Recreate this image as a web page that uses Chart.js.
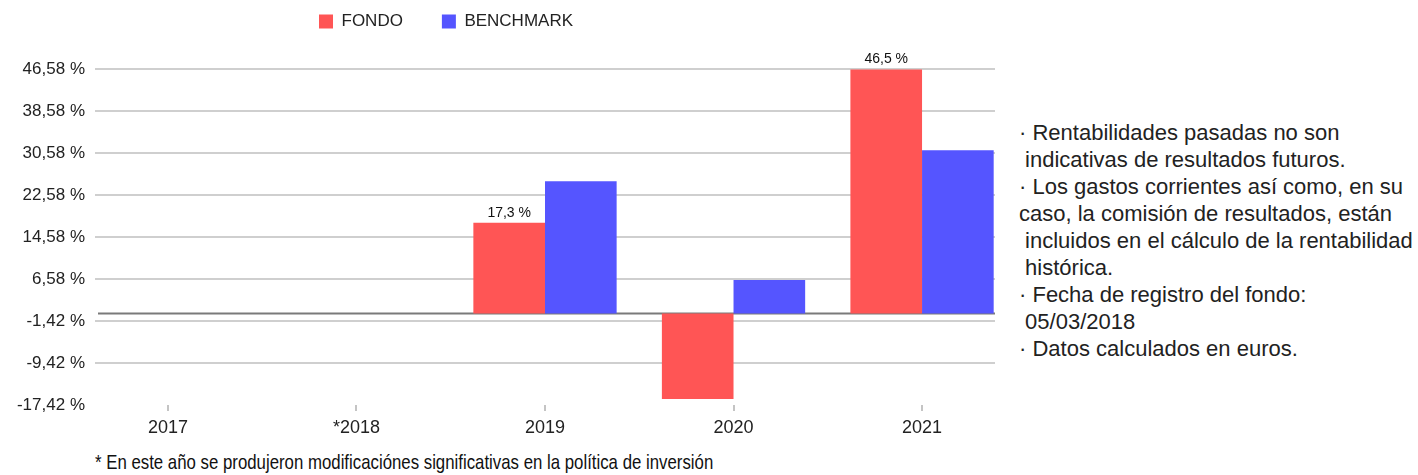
<!DOCTYPE html>
<html>
<head>
<meta charset="utf-8">
<script src="https://cdn.jsdelivr.net/npm/chart.js@4"></script>
<style>
  body { margin: 0; background: #fff; font-family: "Liberation Sans", Arial, sans-serif; }
  #wrap { position: relative; width: 1418px; height: 475px; }
  #box { position: absolute; left: 0; top: 0; width: 1000px; height: 445px; }
  #notes { position: absolute; left: 1019px; top: 119px; font-size: 22px; line-height: 27px; color: #222; white-space: pre; }
  #foot { position: absolute; left: 95px; top: 450px; font-size: 21px; color: #111; white-space: nowrap; transform: scaleX(0.8); transform-origin: left center; }
</style>
</head>
<body>
<div id="wrap">
  <div id="box"><canvas id="grafico"></canvas></div>
  <div id="notes">· Rentabilidades pasadas no son
 indicativas de resultados futuros.
· Los gastos corrientes así como, en su
caso, la comisión de resultados, están
 incluidos en el cálculo de la rentabilidad
 histórica.
· Fecha de registro del fondo:
 05/03/2018
· Datos calculados en euros.</div>
  <div id="foot">* En este año se produjeron modificaciónes significativas en la política de inversión</div>
</div>
<script>
const years = ["2017", "*2018", "2019", "2020", "2021"];
const fondo = [null, null, 17.3, -16.3, 46.5];
const benchmark = [null, null, 25.2, 6.4, 31.1];
const yTicks = [-17.42, -9.42, -1.42, 6.58, 14.58, 22.58, 30.58, 38.58, 46.58];

const RED = "#ff5555";
const BLUE = "#5555ff";
const FONT = "'Liberation Sans', Arial, sans-serif";
const LEG_PAD = 39;

function pct(v, d) {
    return v.toFixed(d).replace(".", ",") + " %";
}

// linea del cero, leyenda recolocada y etiquetas sobre las barras del fondo
const extras = {
    id: "extras",
    afterLayout(chart) {
        chart.legend.left = 319 - LEG_PAD;
        chart.legend.top = 23 - LEG_PAD - 10;
    },
    beforeDatasetsDraw(chart) {
        const c = chart.ctx;
        const y0 = chart.scales.y.getPixelForValue(0);
        c.save();
        c.strokeStyle = "#7a7a7a";
        c.lineWidth = 2;
        c.beginPath();
        c.moveTo(chart.chartArea.left + 3, y0);
        c.lineTo(chart.chartArea.right, y0);
        c.stroke();
        c.restore();
    },
    afterDatasetsDraw(chart) {
        const c = chart.ctx;
        const meta = chart.getDatasetMeta(0);
        c.save();
        c.fillStyle = "#111";
        c.font = "14px " + FONT;
        c.textAlign = "center";
        c.textBaseline = "alphabetic";
        meta.data.forEach((bar, i) => {
            const v = fondo[i];
            if (v == null || v <= 0) return;
            c.fillText(pct(v, 1), bar.x, bar.y - 6);
        });
        c.restore();
    }
};

new Chart(document.getElementById("grafico"), {
    type: "bar",
    data: {
        datasets: [
            { label: "FONDO", data: fondo.map((v, i) => ({ x: i, y: v })), backgroundColor: RED, borderWidth: 0 },
            { label: "BENCHMARK", data: benchmark.map((v, i) => ({ x: i, y: v })), backgroundColor: BLUE, borderWidth: 0 }
        ]
    },
    options: {
        responsive: true,
        maintainAspectRatio: false,
        animation: false,
        categoryPercentage: 0.76,
        barPercentage: 1,
        layout: { padding: { top: 3, right: 5, bottom: 0, left: 0 } },
        plugins: {
            tooltip: { enabled: false },
            legend: {
                position: "top",
                align: "start",
                labels: {
                    boxWidth: 14,
                    boxHeight: 14,
                    padding: LEG_PAD,
                    color: "#222",
                    font: { family: FONT, size: 17 }
                }
            }
        },
        scales: {
            x: {
                type: "linear",
                offset: false,
                min: -0.387,
                max: 4.387,
                afterFit: (s) => { s.height = 40; },
                afterBuildTicks: (s) => { s.ticks = years.map((y, i) => ({ value: i })); },
                border: { display: false },
                grid: { offset: false, drawOnChartArea: false, drawTicks: true, tickLength: 6, lineWidth: 2, color: "#c4c4c4" },
                ticks: {
                    padding: 6,
                    color: "#222",
                    font: { family: FONT, size: 18 },
                    callback: (v) => years[v] ?? ""
                }
            },
            y: {
                min: yTicks[0],
                max: yTicks[yTicks.length - 1],
                afterFit: (s) => { s.width = 95; },
                afterBuildTicks: (s) => { s.ticks = yTicks.map((v) => ({ value: v })); },
                border: { display: false },
                grid: {
                    drawTicks: false,
                    lineWidth: 2,
                    color: (ctx) => (ctx.tick && ctx.tick.value === yTicks[0] ? "rgba(0,0,0,0)" : "#cfcfcf")
                },
                ticks: {
                    padding: 10,
                    color: "#222",
                    font: { family: FONT, size: 17 },
                    callback: (v) => pct(v, 2)
                }
            }
        }
    },
    plugins: [extras]
});
</script>
</body>
</html>
